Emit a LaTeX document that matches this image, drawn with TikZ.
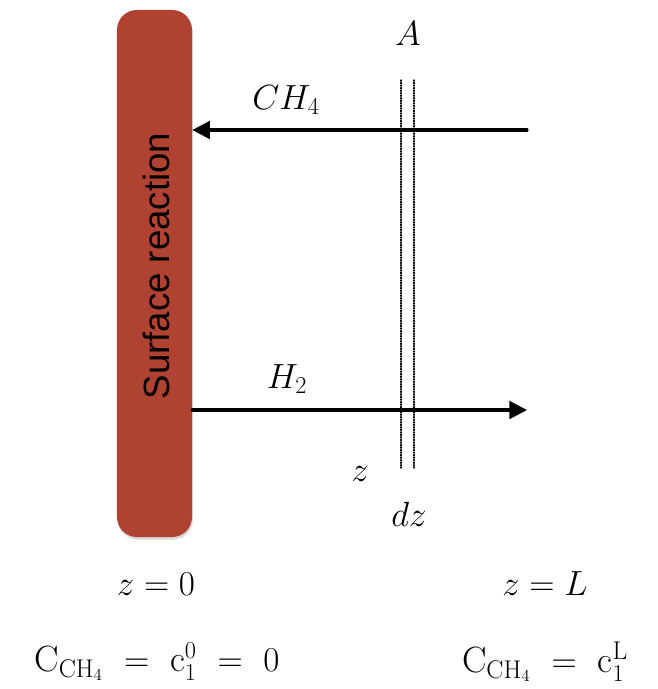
\documentclass[tikz,border=0pt]{standalone}
\usepackage{amsmath}
\usepackage{fontspec}
\newfontfamily\wallfont{Liberation Sans}
\usetikzlibrary{arrows.meta,shadows}
\definecolor{brick}{RGB}{176,66,50}

\begin{document}
\begin{tikzpicture}[x=0.025cm,y=-0.025cm,line cap=round]
	\tikzstyle{flux}=[line width=2.2pt,-{Triangle[length=0.44cm,width=0.44cm]}];
	\tikzstyle{slab}=[densely dotted,line width=0.8pt];
	\tikzstyle{lbl}=[inner sep=0pt,font=\fontsize{24}{28}\selectfont];
	\tikzstyle{cond}=[inner sep=0pt,font=\fontsize{24}{28}\selectfont];
	\tikzstyle{conc}=[inner sep=0pt,font=\fontsize{26}{30}\selectfont];
	\useasboundingbox (0,0) rectangle (657,689);
	%% wall
	\node[fill=brick,rounded corners=0.5cm,minimum width=1.875cm,minimum height=13.175cm,inner sep=0pt,
	      drop shadow={opacity=0.3,shadow xshift=0.6pt,shadow yshift=-1.8pt}] (wall) at (154.5,273.5) {};
	\node[rotate=90,inner sep=0pt,font=\wallfont\fontsize{26}{30}\selectfont] (surf) at (156,266) {Surface reaction};
	%% fluxes
	\coordinate (ch4in) at (527,130);
	\coordinate (h2out) at (527,410);
	\draw[flux] (ch4in) -- (ch4in -| wall.east);
	\draw[flux] (h2out -| wall.east) -- (h2out);
	%% slab
	\draw[slab] (401,80) -- (401,468);
	\draw[slab] (414,80) -- (414,468);
	%% labels
	\node[lbl] (A)   at (408,34)  {$A$};
	\node[lbl] (ch4) at (286,100) {$CH_4$};
	\node[lbl] (h2)  at (287,379) {$H_2$};
	\node[lbl] (z)   at (360,474) {$z$};
	\node[lbl] (dz)  at (409,514) {$dz$};
	%% boundary conditions
	\node[cond] (zzero) at (156,584) {$z=0$};
	\node[cond] (zL)    at (545,584) {$z=L$};
	\node[conc] (czero) at (157,662) {$\mathrm{C}_{\mathrm{CH}_4}\ =\ \mathrm{c}_1^0\ =\ 0$};
	\node[conc] (cL)    at (545,662) {$\mathrm{C}_{\mathrm{CH}_4}\ =\ \mathrm{c}_1^{\mathrm{L}}$};
\end{tikzpicture}
\end{document}
